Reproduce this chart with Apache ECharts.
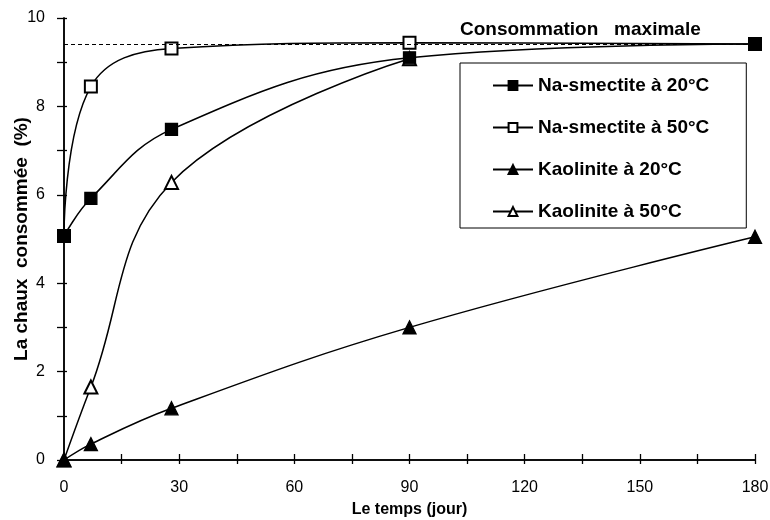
<!DOCTYPE html>
<html>
<head>
<meta charset="utf-8">
<script src="https://cdn.jsdelivr.net/npm/echarts@6/dist/echarts.min.js"></script>
<style>
  html, body { margin: 0; padding: 0; background: #fff; }
  #chaux { width: 770px; height: 520px; }
</style>
</head>
<body>
<div id="chaux"></div>
<script>
// temps (jour)
var jours = [0, 7, 28, 90, 180];
// chaux consommée (%)
var smectite20 = [5.07, 5.92, 7.48, 9.1, 9.41];
var smectite50 = [5.07, 8.45, 9.31, 9.44, 9.41];
var kaolinite20 = [0, 0.36, 1.17, 3.0, 5.05];
var kaolinite50 = [0, 1.65, 6.28, 9.08];
var consoMax = 9.4;
var xTicks = [0, 30, 60, 90, 120, 150, 180];

function paires(vals) {
	return vals.map(function (v, i) { return [jours[i], v]; });
}

var police = 'Liberation Sans, Arial, sans-serif';
var noir = '#000';

var chart = echarts.init(document.getElementById('chaux'));

function serie(nom, vals, symbole, taille, z) {
	return {
		name: nom,
		type: 'line',
		data: paires(vals),
		smooth: 0.4,
		symbol: symbole,
		symbolSize: taille,
		z: z,
		lineStyle: { color: noir, width: 1.5 },
		itemStyle: { color: noir, borderColor: noir, borderWidth: 1.3 }
	};
}

var series = [
	serie('Na-smectite à 20°C', smectite20, 'rect', 12, 5),
	serie('Na-smectite à 50°C', smectite50, 'emptyRect', 12, 4),
	serie('Kaolinite à 20°C', kaolinite20, 'triangle', 13, 3),
	serie('Kaolinite à 50°C', kaolinite50, 'emptyTriangle', 13, 2)
];
series[1].markLine = {
	silent: true,
	symbol: ['none', 'none'],
	label: { show: false },
	lineStyle: { color: noir, type: [4, 3], width: 1 },
	data: [{ yAxis: consoMax }]
};

var option = {
	animation: false,
	textStyle: { fontFamily: police, color: noir },
	title: {
		text: 'Consommation   maximale',
		left: 455,
		top: 15,
		textStyle: { fontFamily: police, fontWeight: 'bold', fontSize: 19, color: noir }
	},
	grid: { left: 64, right: 15, top: 18, bottom: 60, outerBoundsMode: 'none' },
	legend: {
		orient: 'vertical',
		left: 460,
		top: 63,
		padding: [13, 37, 7, 32],
		itemGap: 23,
		itemWidth: 40,
		itemHeight: 11,
		borderColor: noir,
		borderWidth: 1,
		backgroundColor: '#fff',
		textStyle: { fontFamily: police, fontWeight: 'bold', fontSize: 19, color: noir }
	},
	xAxis: [{
		type: 'value',
		min: 0,
		max: 180,
		interval: 15,
		name: 'Le temps (jour)',
		nameLocation: 'middle',
		nameGap: 42,
		nameTextStyle: { fontFamily: police, fontWeight: 'bold', fontSize: 16, color: noir },
		splitLine: { show: false },
		axisLine: { onZero: false, lineStyle: { color: noir, width: 1.5 } },
		axisTick: { length: 4, lineStyle: { color: noir, width: 1.3 } },
		axisLabel: {
			margin: 20,
			fontSize: 16,
			color: noir,
			formatter: function (v) { return xTicks.indexOf(v) >= 0 ? v : ''; }
		}
	}, {
		type: 'value',
		position: 'bottom',
		min: 0,
		max: 180,
		interval: 15,
		splitLine: { show: false },
		axisLine: { onZero: false, lineStyle: { color: noir, width: 1.5 } },
		axisTick: { inside: true, length: 6, lineStyle: { color: noir, width: 1.3 } },
		axisLabel: { show: false }
	}],
	yAxis: [{
		type: 'value',
		min: 0,
		max: 10,
		interval: 1,
		name: 'La chaux  consommée  (%)',
		nameLocation: 'middle',
		nameGap: 33,
		nameMoveOverlap: false,
		nameTextStyle: { fontFamily: police, fontWeight: 'bold', fontSize: 19, color: noir },
		splitLine: { show: false },
		axisLine: { onZero: false, lineStyle: { color: noir, width: 1.5 } },
		axisTick: { length: 7, lineStyle: { color: noir, width: 1.3 } },
		axisLabel: {
			margin: 19,
			fontSize: 16,
			color: noir,
			formatter: function (v) { return v % 2 === 0 ? v : ''; }
		}
	}, {
		type: 'value',
		position: 'left',
		min: 0,
		max: 10,
		interval: 1,
		splitLine: { show: false },
		axisLine: { onZero: false, lineStyle: { color: noir, width: 1.5 } },
		axisTick: { inside: true, length: 3, lineStyle: { color: noir, width: 1.3 } },
		axisLabel: { show: false }
	}],
	series: series
};

chart.setOption(option);
</script>
</body>
</html>
